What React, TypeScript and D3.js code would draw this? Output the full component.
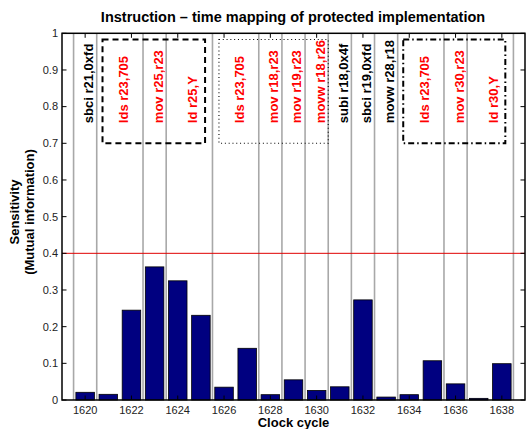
import React from 'react'
import * as d3 from 'd3'

// clock cycles and mutual information per cycle
const cycles = [1620, 1621, 1622, 1623, 1624, 1625, 1626, 1627, 1628, 1629, 1630, 1631, 1632, 1633, 1634, 1635, 1636, 1637, 1638]
const sensitivity = [0.021, 0.0155, 0.245, 0.363, 0.325, 0.231, 0.035, 0.141, 0.0145, 0.055, 0.026, 0.036, 0.273, 0.008, 0.0145, 0.107, 0.044, 0.0045, 0.099]

// instructions mapped onto the clock cycles
const instrText = ['sbci r21,0xfd', 'lds r23,705', 'mov r25,r23', 'ld r25,Y', 'lds r23,705', 'mov r18,r23', 'mov r19,r23', 'movw r18,r26', 'subi r18,0x4f', 'sbci r19,0xfd', 'movw r28,r18', 'lds r23,705', 'mov r30,r23', 'ld r30,Y']
const instrStart = [1620, 1621, 1623, 1624, 1626, 1628, 1629, 1630, 1631, 1632, 1633, 1634, 1636, 1637]
const instrCycles = [1, 2, 1, 2, 2, 1, 1, 1, 1, 1, 1, 2, 1, 2]
const instrProtected = [false, true, true, true, true, true, true, true, false, false, false, true, true, true]

// boxes grouping the protected instructions
const boxX0 = [1620.75, 1625.78, 1633.74]
const boxX1 = [1625.18, 1630.5, 1638.15]
const boxY0 = 0.7
const boxY1 = 0.983
const boxDash = ['6,4', '1,2.8', '6,3,1.5,3']
const boxWidth = [2, 1.1, 2]

const threshold = 0.4
const yTicks = [0, 0.1, 0.2, 0.3, 0.4, 0.5, 0.6, 0.7, 0.8, 0.9, 1]
const xTicks = [1620, 1622, 1624, 1626, 1628, 1630, 1632, 1634, 1636, 1638]

const W = 527
const H = 429
const m = { left: 62, right: 525, top: 33.3, bottom: 400 }
const font = '"Liberation Sans", Arial, Helvetica, sans-serif'

const App = () => {
  const x = d3.scaleLinear().domain([1619, 1639]).range([m.left, m.right])
  const y = d3.scaleLinear().domain([0, 1]).range([m.bottom, m.top])
  const bw = (x(1620.8) - x(1620))

  const boundaries = instrStart.map((s) => s - 0.5).concat([instrStart[instrStart.length - 1] + instrCycles[instrCycles.length - 1] - 0.5])

  return (
    <div style={{ position: 'absolute', left: 0, top: 0 }}>
      <svg width={W} height={H} style={{ display: 'block', fontFamily: font }}>
        <rect width={W} height={H} fill="#fff" />
        <text x={293} y={22} textAnchor="middle" fontSize={14.5} fontWeight="bold">
          Instruction – time mapping of protected implementation
        </text>

        {boundaries.map((b, i) => (
          <line key={'g' + i} x1={x(b)} x2={x(b)} y1={m.top} y2={m.bottom} stroke="#a8a8a8" strokeWidth={1.6} />
        ))}

        {cycles.map((c, i) => (
          <rect key={'b' + i} x={x(c) - bw / 2} y={y(sensitivity[i])} width={bw} height={y(0) - y(sensitivity[i])}
            fill="#000080" stroke="#000" strokeWidth={0.8} />
        ))}

        <line x1={m.left} x2={m.right} y1={y(threshold)} y2={y(threshold)} stroke="#e00000" strokeWidth={1} />

        {boxX0.map((b, i) => (
          <rect key={'box' + i} x={x(b)} y={y(boxY1)} width={x(boxX1[i]) - x(b)} height={y(boxY0) - y(boxY1)}
            fill="none" stroke="#000" strokeWidth={boxWidth[i]} strokeDasharray={boxDash[i]} />
        ))}

        {instrText.map((t, i) => {
          const cx = x(instrStart[i] - 0.5 + instrCycles[i] / 2 + 0.15)
          return (
            <text key={'t' + i} transform={`translate(${cx},${y(0.755)}) rotate(-90)`} textAnchor="start"
              dominantBaseline="central" fontSize={13} fontWeight="bold" fill={instrProtected[i] ? '#ff0000' : '#000'}>
              {t}
            </text>
          )
        })}

        {/* axes box */}
        <rect x={m.left} y={m.top} width={m.right - m.left} height={m.bottom - m.top} fill="none" stroke="#000" strokeWidth={1.5} />
        {yTicks.map((t) => (
          <g key={'yt' + t}>
            <line x1={m.left} x2={m.left + 4.5} y1={y(t)} y2={y(t)} stroke="#000" />
            <line x1={m.right - 4.5} x2={m.right} y1={y(t)} y2={y(t)} stroke="#000" />
            <text x={m.left - 4} y={y(t)} dy="0.35em" textAnchor="end" fontSize={11} fill="#222">{t}</text>
          </g>
        ))}
        {xTicks.map((t) => (
          <g key={'xt' + t}>
            <line x1={x(t)} x2={x(t)} y1={m.top} y2={m.top + 4.5} stroke="#000" />
            <line x1={x(t)} x2={x(t)} y1={m.bottom} y2={m.bottom - 4.5} stroke="#000" />
            <text x={x(t)} y={414} textAnchor="middle" fontSize={11} fill="#222">{t}</text>
          </g>
        ))}

        <text x={(m.left + m.right) / 2} y={427} textAnchor="middle" fontSize={13} fontWeight="bold">Clock cycle</text>
        <text transform={`translate(19,212) rotate(-90)`} textAnchor="middle" fontSize={13} fontWeight="bold">Sensitivity</text>
        <text transform={`translate(34,212) rotate(-90)`} textAnchor="middle" fontSize={13} fontWeight="bold">(Mutual information)</text>
      </svg>
    </div>
  )
}

export default App
